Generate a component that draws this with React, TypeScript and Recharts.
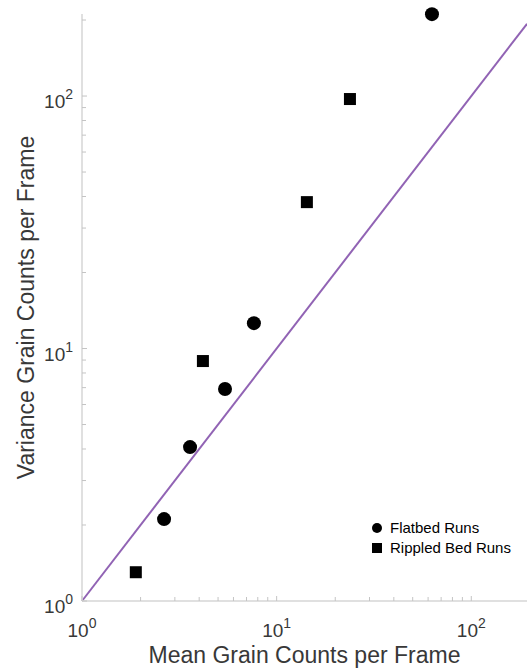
import React from 'react';
import {
  ScatterChart,
  Scatter,
  XAxis,
  YAxis,
  ReferenceLine,
  Legend,
  Label,
} from 'recharts';

// Flatbed runs: mean vs variance of grain counts per frame
const flatbedMean = [2.64, 3.59, 5.43, 7.64, 62.8];
const flatbedVariance = [2.11, 4.07, 6.91, 12.6, 211];

// Rippled bed runs
const rippledMean = [1.89, 4.18, 14.3, 23.8];
const rippledVariance = [1.3, 8.92, 38.0, 97.3];

// Log axes: domains and tick positions (decades plus minor ticks)
const xDomain = [1, 193.3];
const yDomain = [1, 211.3];
const xTicks = [1, 2, 3, 4, 5, 6, 7, 8, 9, 10, 20, 30, 40, 50, 60, 70, 80, 90, 100];
const yTicks = [1, 2, 3, 4, 5, 6, 7, 8, 9, 10, 20, 30, 40, 50, 60, 70, 80, 90, 100, 200];
const decadeExponent: Record<number, string> = { 1: '0', 10: '1', 100: '2' };

// Poisson reference line: variance = mean
const identityLine = [1, 193.3];

const xTitle = 'Mean Grain Counts per Frame';
const yTitle = 'Variance Grain Counts per Frame';
const seriesNames = ['Flatbed Runs', 'Rippled Bed Runs'];

const flatbedData = flatbedMean.map((m, i) => ({ x: m, y: flatbedVariance[i] }));
const rippledData = rippledMean.map((m, i) => ({ x: m, y: rippledVariance[i] }));

const FONT = '"Liberation Sans", Arial, Helvetica, sans-serif';
const AXIS = '#d6d6d6';
const TICK = '#c4c4c4';
const TEXT = '#383838';
const LINE = '#9163b4';

const XTick = (props: any) => {
  const { x, y, payload } = props;
  const exp = decadeExponent[payload.value];
  const major = exp !== undefined;
  return (
    <g>
      <line x1={x} x2={x} y1={y} y2={y - (major ? 5 : 4)} stroke={TICK} strokeWidth={1} />
      {major && (
        <text x={x} y={y + 36} textAnchor="middle" fill={TEXT} fontSize={19} fontFamily={FONT}>
          10
          <tspan dy={-9} fontSize={14}>
            {exp}
          </tspan>
        </text>
      )}
    </g>
  );
};

const YTick = (props: any) => {
  const { x, y, payload } = props;
  const exp = decadeExponent[payload.value];
  const major = exp !== undefined;
  return (
    <g>
      <line x1={x} x2={x + (major ? 5 : 4)} y1={y} y2={y} stroke={TICK} strokeWidth={1} />
      {major && (
        <text x={x - 9} y={y + 12} textAnchor="end" fill={TEXT} fontSize={19} fontFamily={FONT}>
          10
          <tspan dy={-9} fontSize={14}>
            {exp}
          </tspan>
        </text>
      )}
    </g>
  );
};

const CircleMark = (props: any) => <circle cx={props.cx} cy={props.cy} r={7} fill="#000" />;
const SquareMark = (props: any) => (
  <rect x={props.cx - 6} y={props.cy - 6} width={12} height={12} fill="#000" />
);

const LegendBox = () => (
  <div style={{ fontFamily: FONT, fontSize: 15, color: '#000', lineHeight: '20px' }}>
    <div style={{ display: 'flex', alignItems: 'center' }}>
      <svg width={22} height={20}>
        <circle cx={9} cy={10} r={5} fill="#000" />
      </svg>
      <span>{seriesNames[0]}</span>
    </div>
    <div style={{ display: 'flex', alignItems: 'center' }}>
      <svg width={22} height={20}>
        <rect x={4} y={5} width={10} height={10} fill="#000" />
      </svg>
      <span>{seriesNames[1]}</span>
    </div>
  </div>
);

export default function App() {
  return (
    <div
      style={{
        position: 'absolute',
        left: 0,
        top: 0,
        width: 527,
        height: 669,
        overflow: 'hidden',
        background: '#fff',
      }}
    >
      <ScatterChart
        width={527}
        height={669}
        margin={{ top: 14, right: 0, bottom: 0, left: 0 }}
        style={{ fontFamily: FONT }}
      >
        <XAxis
          type="number"
          dataKey="x"
          scale="log"
          domain={xDomain}
          ticks={xTicks}
          interval={0}
          tickSize={0}
          tickMargin={0}
          tickLine={false}
          tick={<XTick />}
          height={68}
          axisLine={{ stroke: AXIS, strokeWidth: 1.5 }}
        >
          <Label
            content={(p: any) => {
              const vb = p.viewBox;
              return (
                <text
                  x={vb.x + vb.width / 2}
                  y={vb.y + 62}
                  textAnchor="middle"
                  fill={TEXT}
                  fontSize={23}
                  fontFamily={FONT}
                >
                  {xTitle}
                </text>
              );
            }}
          />
        </XAxis>
        <YAxis
          type="number"
          dataKey="y"
          scale="log"
          domain={yDomain}
          ticks={yTicks}
          interval={0}
          tickSize={0}
          tickMargin={0}
          tickLine={false}
          tick={<YTick />}
          width={82}
          axisLine={{ stroke: AXIS, strokeWidth: 1.5 }}
        >
          <Label
            content={(p: any) => {
              const vb = p.viewBox;
              const cy = vb.y + vb.height / 2;
              return (
                <text
                  x={34}
                  y={cy}
                  transform={`rotate(-90 34 ${cy})`}
                  textAnchor="middle"
                  fill={TEXT}
                  fontSize={23}
                  fontFamily={FONT}
                >
                  {yTitle}
                </text>
              );
            }}
          />
        </YAxis>
        <ReferenceLine
          segment={[
            { x: identityLine[0], y: identityLine[0] },
            { x: identityLine[1], y: identityLine[1] },
          ]}
          stroke={LINE}
          strokeWidth={2}
          ifOverflow="visible"
        />
        <Scatter
          name={seriesNames[0]}
          data={flatbedData}
          fill="#000"
          shape={CircleMark}
          isAnimationActive={false}
        />
        <Scatter
          name={seriesNames[1]}
          data={rippledData}
          fill="#000"
          shape={SquareMark}
          isAnimationActive={false}
        />
        <Legend
          layout="vertical"
          align="center"
          verticalAlign="middle"
          content={<LegendBox />}
          wrapperStyle={{ left: 368, top: 518, width: 160, height: 40 }}
        />
      </ScatterChart>
    </div>
  );
}
